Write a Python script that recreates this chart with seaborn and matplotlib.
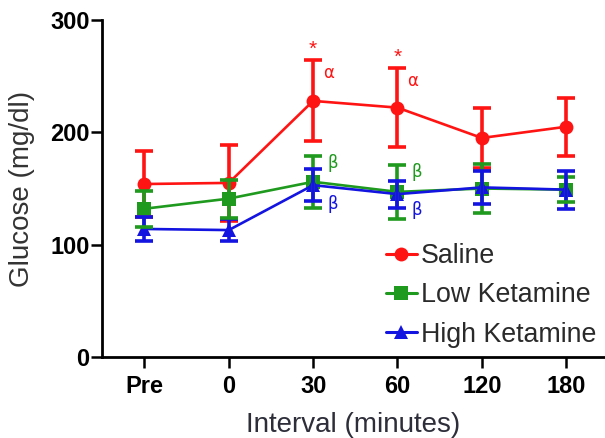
import matplotlib
matplotlib.use("Agg")
import matplotlib.pyplot as plt
import seaborn as sns
import pandas as pd
import numpy as np

intervals = ["Pre", "0", "30", "60", "120", "180"]
groups = ["Saline", "Low Ketamine", "High Ketamine"]
saline_mean = [154, 155, 228, 222, 195, 205]
saline_sem = [29, 34, 36, 35, 27, 26]
low_mean = [132, 141, 156, 147, 150, 149]
low_sem = [16, 17, 23, 24, 22, 11]
high_mean = [114, 113, 153, 145, 151, 149]
high_sem = [11, 10, 14, 12, 15, 17]

colors = {"Saline": "#ff1414", "Low Ketamine": "#1f9a1f", "High Ketamine": "#1414e0"}
markers = {"Saline": "o", "Low Ketamine": "s", "High Ketamine": "^"}

means = {"Saline": saline_mean, "Low Ketamine": low_mean, "High Ketamine": high_mean}
sems = {"Saline": saline_sem, "Low Ketamine": low_sem, "High Ketamine": high_sem}

rows = []
for g in groups:
    for i, lab in enumerate(intervals):
        rows.append({"pos": i, "Interval": lab, "Group": g,
                     "Glucose": means[g][i], "sem": sems[g][i]})
df = pd.DataFrame(rows)

sns.set_style("ticks")
plt.rcParams["font.family"] = ["Liberation Sans", "DejaVu Sans"]

fig = plt.figure(figsize=(6.05, 4.38), dpi=100)
ax = fig.add_axes([0.169, 0.1849, 0.831, 0.7694])

for z, g in enumerate(groups):
    sub = df[df.Group == g]
    ax.errorbar(sub["pos"], sub["Glucose"], yerr=sub["sem"], fmt="none",
                ecolor=colors[g], elinewidth=2.6, capsize=6.5, capthick=2.6,
                zorder=2 + 2 * z)

sns.lineplot(data=df, x="pos", y="Glucose", hue="Group", style="Group",
             hue_order=groups, style_order=groups, palette=colors,
             markers=markers, dashes=False, linewidth=1.9, markersize=10,
             markeredgewidth=0, ax=ax)

data_lines = [l for l in ax.get_lines() if len(l.get_xdata()) == len(intervals)]
for z, line in enumerate(data_lines[:len(groups)]):
    line.set_zorder(3 + 2 * z)

ax.set_xlim(-0.5, 5.46)
ax.set_ylim(0, 300)
ax.set_yticks([0, 100, 200, 300])
ax.set_xticks(range(len(intervals)))
ax.set_xticklabels(intervals)
sns.despine(ax=ax)
for s in ["left", "bottom"]:
    ax.spines[s].set_linewidth(2.0)
    ax.spines[s].set_color("black")
ax.tick_params(axis="both", length=8, width=1.8, color="black",
               labelsize=17, labelcolor="black")
for t in ax.get_xticklabels() + ax.get_yticklabels():
    t.set_fontweight("bold")
ax.tick_params(axis="y", pad=1)
ax.tick_params(axis="x", pad=5)

ax.set_xlabel("Interval (minutes)", fontsize=20, color="#2e2e3a", labelpad=10)
ax.set_ylabel("Glucose (mg/dl)", fontsize=20, color="#333333", labelpad=11)

# significance annotations
for i in [2, 3]:
    top = saline_mean[i] + saline_sem[i]
    ax.annotate("*", (i, top), xytext=(0, 1), textcoords="offset points",
                ha="center", va="bottom", color=colors["Saline"], fontsize=15)
    ax.annotate("α", (i, top), xytext=(11, -9), textcoords="offset points",
                ha="center", va="center", color=colors["Saline"], fontsize=12,
                family=["DejaVu Sans"])
    ax.annotate("β", (i, low_mean[i] + low_sem[i]), xytext=(14, -5),
                textcoords="offset points", ha="center", va="center",
                color=colors["Low Ketamine"], fontsize=12, family=["DejaVu Sans"])
    ax.annotate("β", (i, high_mean[i] - high_sem[i]), xytext=(14, -2),
                textcoords="offset points", ha="center", va="center",
                color=colors["High Ketamine"], fontsize=12, family=["DejaVu Sans"])

leg = ax.legend(loc="upper left", bbox_to_anchor=(386 / 605, 1 - 243 / 438),
                bbox_transform=fig.transFigure, frameon=False, fontsize=19.3,
                handlelength=1.15, handletextpad=0.15, labelspacing=0.5,
                borderpad=0, borderaxespad=0)
for t in leg.get_texts():
    t.set_color("#2a2a2a")
for h in leg.legend_handles:
    h.set_linewidth(2.2)

fig.savefig("out.png", dpi=100)
